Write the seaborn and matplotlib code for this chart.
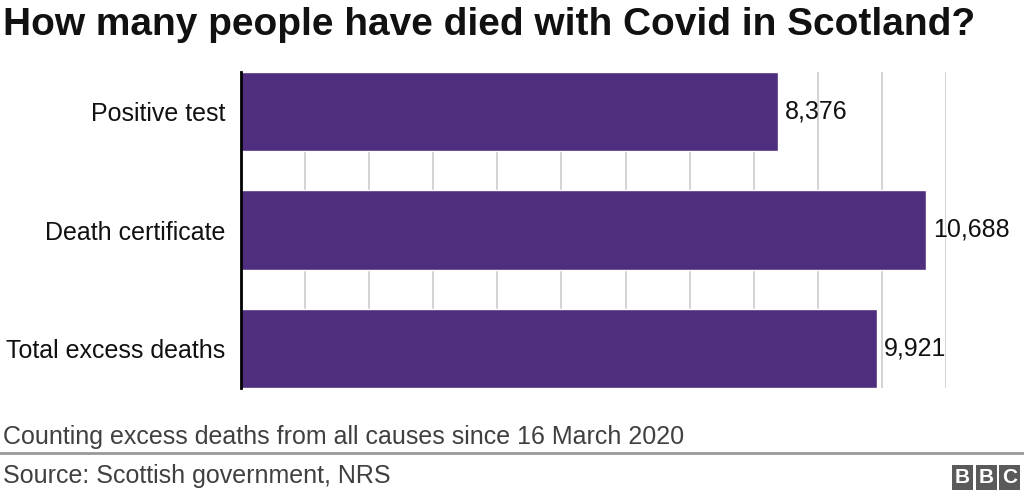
import matplotlib
matplotlib.use("Agg")
import matplotlib.pyplot as plt
import seaborn as sns
import pandas as pd
from matplotlib.patches import Rectangle

categories = ["Positive test", "Death certificate", "Total excess deaths"]
values = [8376, 10688, 9921]
value_labels = ["8,376", "10,688", "9,921"]

sns.set_theme(style="white")
plt.rcParams['font.family'] = ['Liberation Sans', 'DejaVu Sans']

df = pd.DataFrame({"category": categories, "value": values})

fig = plt.figure(figsize=(10.24, 4.99), dpi=100)
ax = fig.add_axes([241/1024, 1-388/499, (946-241)/1024, (388-72)/499])

sns.barplot(data=df, x="value", y="category", color="#4f2d7f", saturation=1,
            width=0.67, ax=ax, zorder=3)
ax.set_xlim(0, 11000)
ax.set_ylim(2.335, -0.335)
ax.set_xticks(range(0, 11001, 1000))
ax.grid(axis="x", color="#cccccc", linewidth=1.2, zorder=0)
ax.tick_params(axis="x", length=0, labelbottom=False)
ax.tick_params(axis="y", length=0, labelsize=18, pad=11, colors="#111111")
ax.set_xlabel("")
ax.set_ylabel("")
for s in ["top", "right", "bottom"]:
    ax.spines[s].set_visible(False)
ax.spines["left"].set_color("#000000")
ax.spines["left"].set_linewidth(2)
ax.spines["left"].set_zorder(5)

for i, (v, lab) in enumerate(zip(values, value_labels)):
    ax.text(v + 110, i, lab, va="center", ha="left", fontsize=18, color="#111111")

fig.text(3/1024, 1-25/499, "How many people have died with Covid in Scotland?",
         fontsize=28, fontweight="bold", color="#111111", va="center", ha="left")
fig.text(3/1024, 1-437/499, "Counting excess deaths from all causes since 16 March 2020",
         fontsize=18, color="#404040", va="center", ha="left")
fig.add_artist(plt.Line2D([0, 1], [1-453/499, 1-453/499], color="#999999", linewidth=2))
fig.text(3/1024, 1-476/499, "Source: Scottish government, NRS",
         fontsize=18, color="#404040", va="center", ha="left")

# BBC logo
bx0 = 952
for k, letter in enumerate("BBC"):
    x = bx0 + k * 23.5
    fig.add_artist(Rectangle((x/1024, 1-490/499), 21/1024, 25/499,
                             facecolor="#5a5a5a", edgecolor="none"))
    fig.text((x + 10.5)/1024, 1-477.5/499, letter, fontsize=15, fontweight="bold",
             color="white", ha="center", va="center")

fig.savefig("out.png", dpi=100)
